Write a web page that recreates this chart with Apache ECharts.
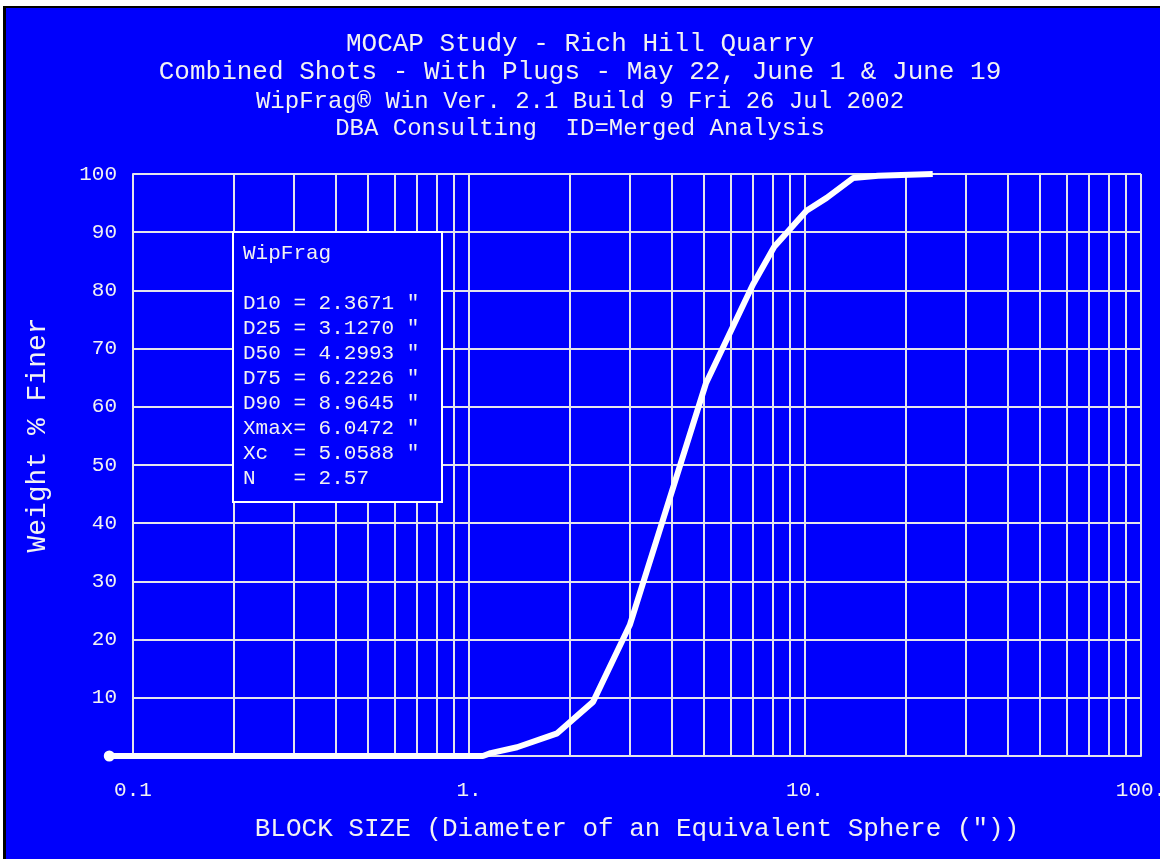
<!DOCTYPE html>
<html>
<head>
<meta charset="utf-8">
<script src="https://cdn.jsdelivr.net/npm/echarts@6/dist/echarts.min.js"></script>
<style>
  html, body { margin: 0; padding: 0; background: #ffffff; overflow: hidden; }
  #bg { position: absolute; left: 3px; top: 6px; width: 1154px; height: 851px; background: #0000fc; border-left: 3px solid #000; border-top: 2px solid #000; }
  #chart { position: absolute; left: 0; top: 0; width: 1160px; height: 859px; }
</style>
</head>
<body>
<div id="bg"></div>
<div id="chart"></div>
<script>
// ---- data ----
const titleLines = [
  'MOCAP Study - Rich Hill Quarry',
  'Combined Shots - With Plugs - May 22, June 1 & June 19',
  'WipFrag\u00AE Win Ver. 2.1 Build 9 Fri 26 Jul 2002',
  'DBA Consulting  ID=Merged Analysis'
];
const xAxisTitle = 'BLOCK SIZE (Diameter of an Equivalent Sphere (\"))';
const yAxisTitle = 'Weight % Finer';
const xTickValues = [0.1, 1, 10, 100];
const xTickLabels = ['0.1', '1.', '10.', '100.'];
const xGridValues = [0.1, 0.2, 0.3, 0.4, 0.5, 0.6, 0.7, 0.8, 0.9,
                     1, 2, 3, 4, 5, 6, 7, 8, 9,
                     10, 20, 30, 40, 50, 60, 70, 80, 90, 100];
const yTickValues = [0, 10, 20, 30, 40, 50, 60, 70, 80, 90, 100];
const sizeInches  = [0.085, 1.10, 1.16, 1.39, 1.83, 2.34, 3.01, 5.07, 7.0, 8.1, 10.1, 11.6, 13.9, 16.5, 24.0];
const percentFiner = [0,    0,    0.5,  1.5,  3.9,  9.3,  22.5, 64,   81,  87.5, 93.7, 95.9, 99.3, 99.7, 100];
const statsHeader = 'WipFrag';
const statsLines = [
  'D10 = 2.3671 "',
  'D25 = 3.1270 "',
  'D50 = 4.2993 "',
  'D75 = 6.2226 "',
  'D90 = 8.9645 "',
  'Xmax= 6.0472 "',
  'Xc  = 5.0588 "',
  'N   = 2.57'
];

// ---- chart ----
const FONT = '"Liberation Mono", "DejaVu Sans Mono", monospace';
const TXT = '#f2f2f2';
const GRIDC = '#e4e4ec';
const W = 1160;
const G = { left: 133, right: 19, top: 174, bottom: 103 };
const X_MIN = xTickValues[0], X_MAX = xTickValues[xTickValues.length - 1];
const decadePx = (W - G.left - G.right) / Math.log10(X_MAX / X_MIN);
const curveMin = Math.min.apply(null, sizeInches);
// second grid with identical scale, extended left so the curve's first point is not clipped
const curveLeft = G.left - decadePx * Math.log10(X_MIN / curveMin);

const chart = echarts.init(document.getElementById('chart'));

const lineData = sizeInches.map((x, i) => [x, percentFiner[i]]);

const titleYs = [47, 75, 104, 131];
const titleSizes = [26, 26, 24, 24];

const graphics = titleLines.map((t, i) => ({
  type: 'text', left: 'center', top: titleYs[i] - titleSizes[i] * 0.6, z: 100,
  style: { text: t, fill: TXT, font: titleSizes[i] + 'px ' + FONT }
}));
graphics.push({
  type: 'text', x: 38, y: 435, rotation: Math.PI / 2, z: 100,
  style: { text: yAxisTitle, fill: TXT, font: '28px ' + FONT, align: 'center', verticalAlign: 'middle' }
});
graphics.push({
  type: 'rect', shape: { x: 233, y: 232, width: 209, height: 270 }, z: 50,
  style: { fill: '#0000fc', stroke: '#ffffff', lineWidth: 2 }
});
graphics.push({
  type: 'text', x: 243, y: 241, z: 51,
  style: { text: [statsHeader, ''].concat(statsLines).join('\n'), fill: TXT,
           font: '21px ' + FONT, lineHeight: 25, verticalAlign: 'top' }
});

chart.setOption({
  backgroundColor: 'transparent',
  animation: false,
  grid: [
    { left: G.left, right: G.right, top: G.top, bottom: G.bottom, containLabel: false, outerBoundsMode: 'none' },
    { left: curveLeft, right: G.right, top: G.top, bottom: G.bottom, containLabel: false, outerBoundsMode: 'none' }
  ],
  xAxis: [{
    type: 'log', logBase: 10, min: X_MIN, max: X_MAX, gridIndex: 0,
    name: xAxisTitle, nameLocation: 'middle', nameGap: 60,
    nameTextStyle: { color: TXT, fontFamily: FONT, fontSize: 26 },
    axisLine: { show: true, lineStyle: { color: GRIDC, width: 2 } },
    axisTick: { show: false },
    splitLine: { show: false },
    minorTick: { show: false },
    axisLabel: {
      color: TXT, fontFamily: FONT, fontSize: 21, margin: 24,
      formatter: function (v) {
        const e = Math.round(Math.log10(v));
        const idx = xTickValues.findIndex(t => Math.round(Math.log10(t)) === e);
        return idx >= 0 ? xTickLabels[idx] : '';
      }
    }
  }, {
    type: 'log', logBase: 10, min: curveMin, max: X_MAX, gridIndex: 1, show: false,
    splitLine: { show: false }
  }],
  yAxis: [{
    type: 'value', min: 0, max: 100, interval: 10, gridIndex: 0,
    axisLine: { show: true, lineStyle: { color: GRIDC, width: 2 } },
    axisTick: { show: false },
    splitLine: { show: true, lineStyle: { color: GRIDC, width: 2 } },
    axisLabel: {
      color: TXT, fontFamily: FONT, fontSize: 21, margin: 16,
      formatter: function (v) { return yTickValues.indexOf(v) > 0 ? String(v) : ''; }
    }
  }, {
    type: 'value', min: 0, max: 100, interval: 10, gridIndex: 1, show: false,
    splitLine: { show: false }
  }],
  graphic: graphics,
  series: [{
    type: 'line',
    xAxisIndex: 0, yAxisIndex: 0,
    data: [],
    silent: true,
    z: 1,
    markLine: {
      silent: true, symbol: 'none', z: 1,
      label: { show: false },
      lineStyle: { color: GRIDC, width: 2, type: 'solid' },
      data: xGridValues.map(v => ({ xAxis: v }))
    }
  }, {
    type: 'line',
    xAxisIndex: 1, yAxisIndex: 1,
    data: lineData,
    clip: false,
    smooth: false,
    symbol: function (val, params) { return params.dataIndex === 0 ? 'emptyCircle' : 'none'; },
    symbolSize: 9,
    showSymbol: true,
    z: 10,
    lineStyle: { color: '#ffffff', width: 6 },
    itemStyle: { color: '#ffffff', borderColor: '#ffffff', borderWidth: 2 }
  }]
});
</script>
</body>
</html>
